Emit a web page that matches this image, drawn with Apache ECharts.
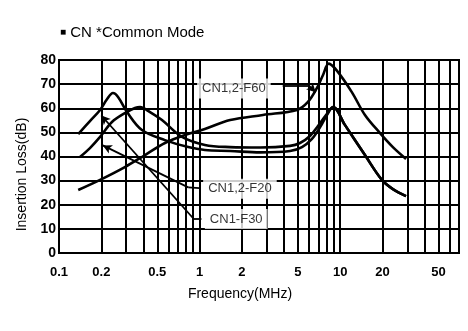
<!DOCTYPE html>
<html>
<head>
<meta charset="utf-8">
<script src="https://cdn.jsdelivr.net/npm/echarts@6/dist/echarts.min.js"></script>
<style>
  html, body { margin: 0; padding: 0; background: #fff; }
  #chart { width: 468px; height: 331px; }
</style>
</head>
<body>
<div id="chart"></div>
<script>
// Insertion loss (common mode) of the CN filter family vs. frequency
const xTickLabels = [0.1, 0.2, 0.5, 1, 2, 5, 10, 20, 50];
const yTickLabels = [0, 10, 20, 30, 40, 50, 60, 70, 80];
const gridFreqs = [0.2, 0.3, 0.4, 0.5, 0.6, 0.7, 0.8, 0.9, 1, 2, 3, 4, 5, 6, 7, 8, 9, 10, 20, 30, 40, 50, 60];

const f30Freq = [0.137, 0.166, 0.196, 0.22, 0.242, 0.263, 0.305, 0.389, 0.567, 0.83, 1.09, 1.65, 2.7, 4.4, 5.35, 6.3, 7.2, 8.05, 8.9, 10.8, 15.0, 19.8, 23.7, 29.4];
const f30Loss = [49.3, 54.7, 59.3, 63.8, 66.3, 64.7, 58.4, 51.0, 46.8, 43.9, 42.7, 42.3, 41.7, 42.3, 43.9, 47.3, 52.2, 57.2, 60.5, 53.1, 40.6, 30.3, 26.5, 23.6];

const f20Freq = [0.141, 0.166, 0.196, 0.238, 0.294, 0.347, 0.377, 0.444, 0.54, 0.75, 1.09, 1.65, 2.7, 4.4, 5.18, 6.1, 6.95, 7.93, 8.9, 10.8, 15.0, 19.8, 23.7, 29.4];
const f20Loss = [39.8, 43.5, 48.1, 54.3, 58.0, 60.1, 60.5, 58.4, 55.1, 48.1, 44.8, 43.9, 43.7, 44.4, 45.6, 48.5, 52.6, 57.2, 60.5, 53.1, 40.6, 30.3, 26.5, 23.6];

const f60Freq = [0.137, 0.196, 0.294, 0.409, 0.567, 0.787, 1.09, 1.65, 2.82, 4.93, 5.9, 6.84, 7.55, 8.3, 9.5, 12.1, 15.0, 19.2, 23.7, 29.4];
const f60Loss = [26.1, 30.3, 35.6, 40.6, 45.6, 48.9, 51.4, 55.1, 57.2, 59.3, 62.6, 68.4, 73.8, 78.5, 75.5, 66.7, 57.2, 49.7, 43.9, 39.0];

// curve labels: [freq, dB] of the label's left anchor
const labelNames = ['CN1,2-F60', 'CN1,2-F20', 'CN1-F30'];
const labelAnchors = [[0.96, 68.2], [1.06, 26.6], [1.09, 14.1]];

// leader lines: arrow tip on the curve -> elbow -> end next to label
const leaderF60 = [[6.7, 66.6], [6.05, 69.2], [3.9, 69.2]];
const leaderF20 = [[0.205, 44.6], [0.83, 27.2], [1.0, 26.9]];
const leaderF30 = [[0.2, 57.0], [0.9, 14.4], [1.03, 14.2]];

const zip = (xs, ys) => xs.map((x, i) => [x, ys[i]]);
const FONT = 'Liberation Sans, Arial, sans-serif';

function curve(name, xs, ys) {
  return {
    name, type: 'line', data: zip(xs, ys), smooth: 0.35,
    symbol: 'none', z: 5,
    lineStyle: { color: '#000', width: 2.6 }
  };
}

function leader(pts) {
  return [
    [{ coord: pts[0], symbol: 'arrow', symbolSize: [7, 9] }, { coord: pts[1], symbol: 'none' }],
    [{ coord: pts[1], symbol: 'none' }, { coord: pts[2], symbol: 'none' }]
  ];
}

const chart = echarts.init(document.getElementById('chart'), null, { renderer: 'canvas' });

chart.setOption({
  animation: false,
  backgroundColor: '#fff',
  title: {
    text: '{sq|■} CN *Common Mode',
    left: 55, top: 20,
    textStyle: {
      fontFamily: FONT, fontSize: 15, fontWeight: 'normal', color: '#000',
      rich: { sq: { fontSize: 10, color: '#000', fontFamily: FONT, verticalAlign: 'middle' } }
    }
  },
  grid: {
    left: 59, right: 9, top: 60, bottom: 78,
    show: true, borderColor: '#000', borderWidth: 2
  },
  xAxis: {
    type: 'log', logBase: 10, min: 0.1, max: 70,
    name: 'Frequency(MHz)', nameLocation: 'middle', nameGap: 34,
    nameTextStyle: { fontFamily: FONT, fontSize: 14, color: '#000', padding: [0, 38, 0, 0] },
    axisLine: { show: true, lineStyle: { color: '#000', width: 2 } },
    axisTick: { show: false },
    splitLine: { show: false },
    minorSplitLine: { show: false },
    axisLabel: {
      customValues: xTickLabels,
      margin: 13,
      fontFamily: FONT, fontSize: 13, fontWeight: 'bold', color: '#000',
      formatter: v => String(parseFloat(Number(v).toPrecision(2)))
    }
  },
  yAxis: {
    type: 'value', min: 0, max: 80, interval: 10,
    name: 'Insertion Loss(dB)', nameLocation: 'middle', nameGap: 30, nameRotate: 90,
    nameTextStyle: { fontFamily: FONT, fontSize: 14, color: '#000', padding: [0, 36, 0, 0] },
    axisLine: { show: true, lineStyle: { color: '#000', width: 2 } },
    axisTick: { show: false },
    splitLine: { show: true, lineStyle: { color: '#000', width: 2.2 } },
    axisLabel: {
      margin: 3,
      fontFamily: FONT, fontSize: 14, fontWeight: 'bold', color: '#000',
      formatter: v => (yTickLabels.includes(v) ? String(v) : '')
    }
  },
  series: [
    {
      name: 'grid', type: 'line', data: [], z: 1, silent: true,
      markLine: {
        silent: true, symbol: 'none', animation: false,
        label: { show: false },
        lineStyle: { color: '#000', width: 2, type: 'solid' },
        data: gridFreqs.map(f => ({ xAxis: f }))
      }
    },
    curve('CN1-F30', f30Freq, f30Loss),
    curve('CN1,2-F20', f20Freq, f20Loss),
    curve('CN1,2-F60', f60Freq, f60Loss),
    {
      name: 'leaders', type: 'line', data: [], z: 6, silent: true,
      markLine: {
        silent: true, animation: false,
        label: { show: false },
        lineStyle: { color: '#000', width: 1.8, type: 'solid' },
        data: [...leader(leaderF60), ...leader(leaderF20), ...leader(leaderF30)]
      }
    },
    {
      name: 'labels', type: 'scatter', z: 8, silent: true,
      symbolSize: 0,
      data: labelNames.map((n, i) => ({ name: n, value: labelAnchors[i] })),
      label: {
        show: true, position: 'right', distance: 0,
        formatter: '{b}',
        fontFamily: FONT, fontSize: 13, color: '#000',
        backgroundColor: '#fff', padding: [4, 5, 3, 5]
      }
    }
  ]
});
</script>
</body>
</html>
